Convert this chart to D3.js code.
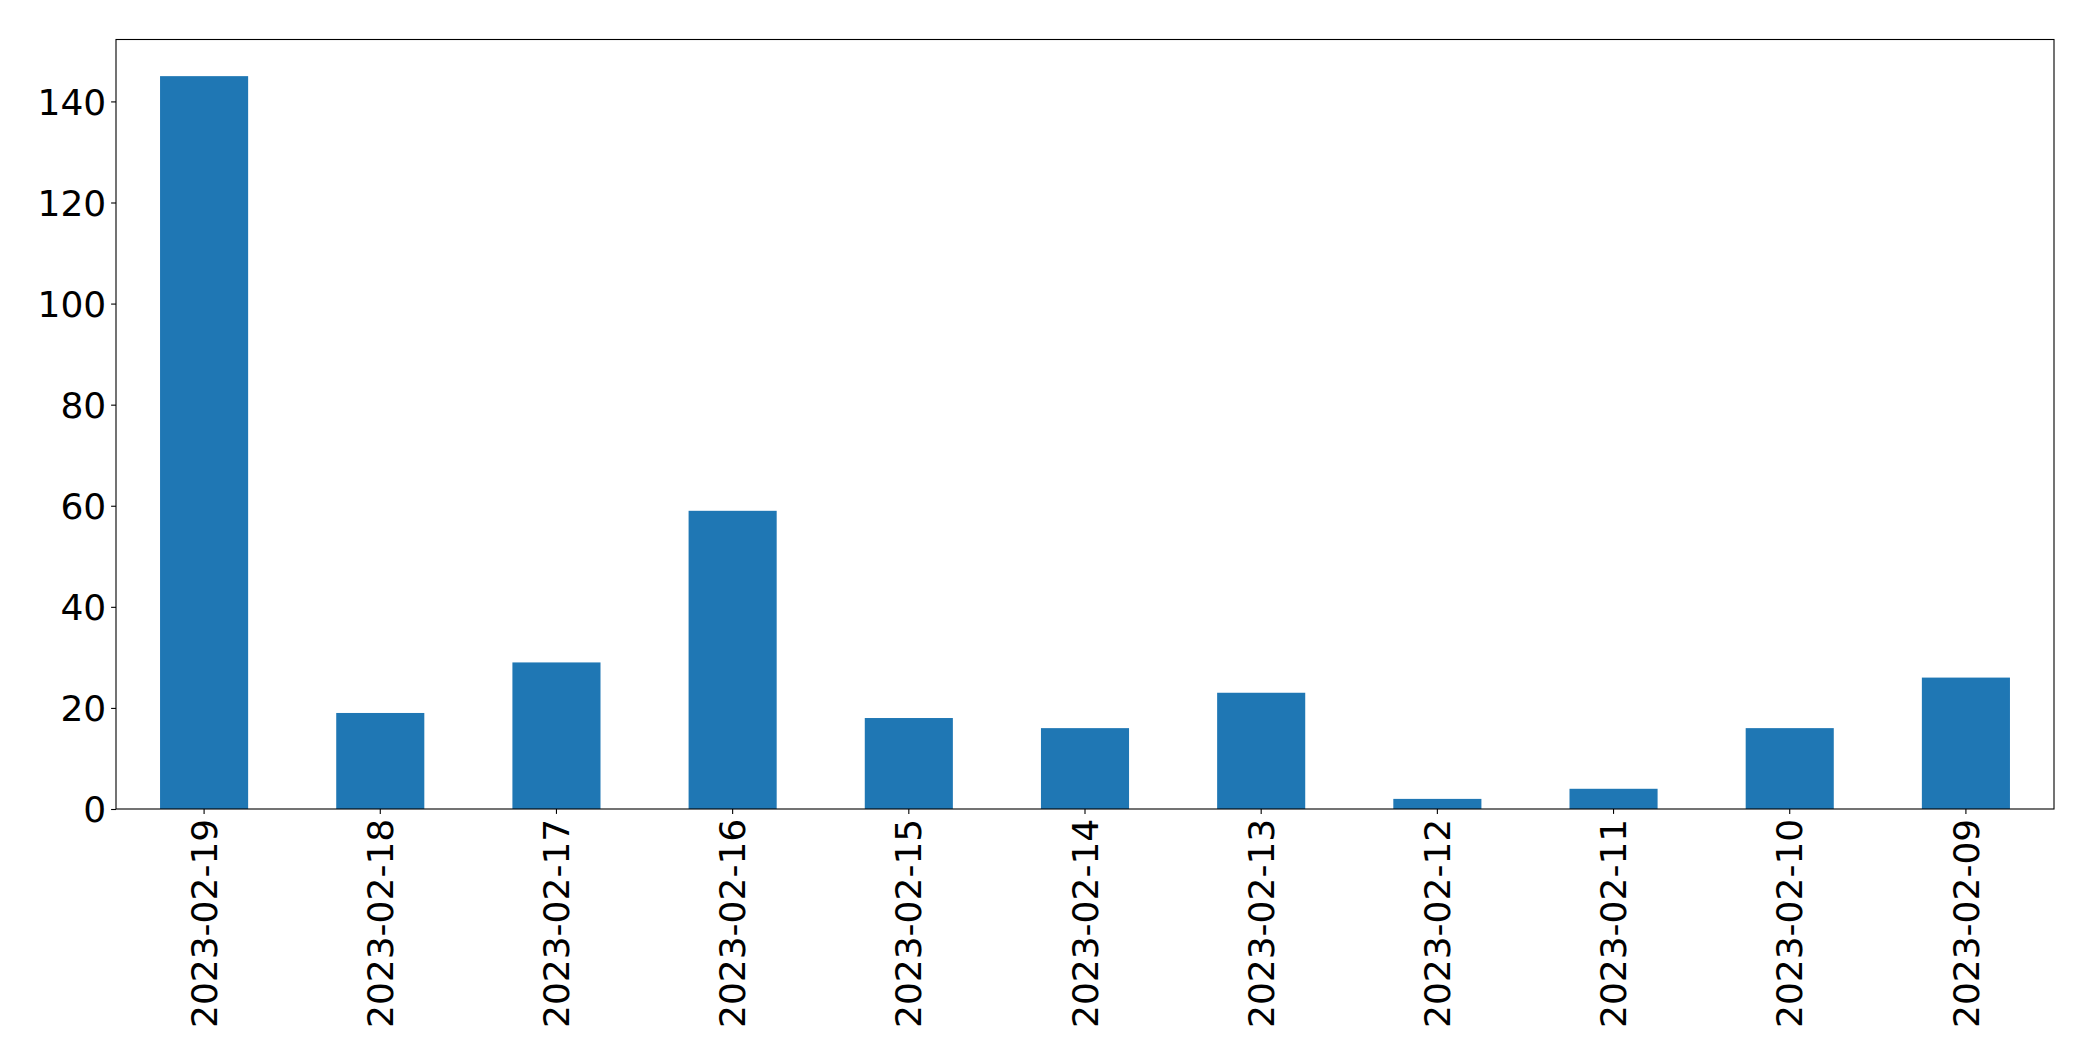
<!DOCTYPE html>
<html><head><meta charset="utf-8">
<script src="https://cdn.jsdelivr.net/npm/d3@7"></script>
<style>body{margin:0;background:#fff}svg{display:block}</style>
</head><body>
<svg id="chart" width="2093" height="1061"></svg>
<script>
const categories = ["2023-02-19","2023-02-18","2023-02-17","2023-02-16","2023-02-15","2023-02-14","2023-02-13","2023-02-12","2023-02-11","2023-02-10","2023-02-09"];
const values = [145, 19, 29, 59, 18, 16, 23, 2, 4, 16, 26];
const yTicks = [0, 20, 40, 60, 80, 100, 120, 140];

const W = 2093, H = 1061;
const m = {left: 116, right: 2093 - 2054, top: 39.5, bottom: 1061 - 809};
const svg = d3.select("#chart");
const iw = W - m.left - m.right, ih = H - m.top - m.bottom;
const g = svg.append("g").attr("transform", `translate(${m.left},${m.top})`);

const x = d3.scaleBand().domain(categories).range([0, iw]).paddingInner(0.5).paddingOuter(0.25);
const y = d3.scaleLinear().domain([0, d3.max(values) * 1.05]).range([ih, 0]);

g.selectAll("rect.bar").data(values).join("rect")
  .attr("class", "bar")
  .attr("x", (d, i) => x(categories[i]))
  .attr("width", x.bandwidth())
  .attr("y", d => y(d))
  .attr("height", d => y(0) - y(d))
  .attr("fill", "#1f77b4");

const font = "'DejaVu Sans', sans-serif";
const yAxis = g.append("g").call(d3.axisLeft(y).tickValues(yTicks).tickSize(4.9).tickPadding(4.9).tickFormat(d3.format("d")));
const xAxis = g.append("g").attr("transform", `translate(0,${ih})`).call(d3.axisBottom(x).tickSize(4.9).tickPadding(4.9));
[yAxis, xAxis].forEach(a => {
  a.select(".domain").remove();
  a.selectAll("line").attr("stroke", "#000").attr("stroke-width", 1.1);
  a.selectAll("text").attr("font-family", font).attr("font-size", 36).attr("fill", "#000");
});
yAxis.selectAll("text").attr("dy", "0.35em");
xAxis.selectAll("text")
  .attr("transform", "rotate(-90)")
  .attr("text-anchor", "end")
  .attr("x", -9.8)
  .attr("y", 0)
  .attr("dy", "0.35em");

g.append("rect").attr("x", 0).attr("y", 0).attr("width", iw).attr("height", ih)
  .attr("fill", "none").attr("stroke", "#000").attr("stroke-width", 1.1);
</script>
</body></html>
